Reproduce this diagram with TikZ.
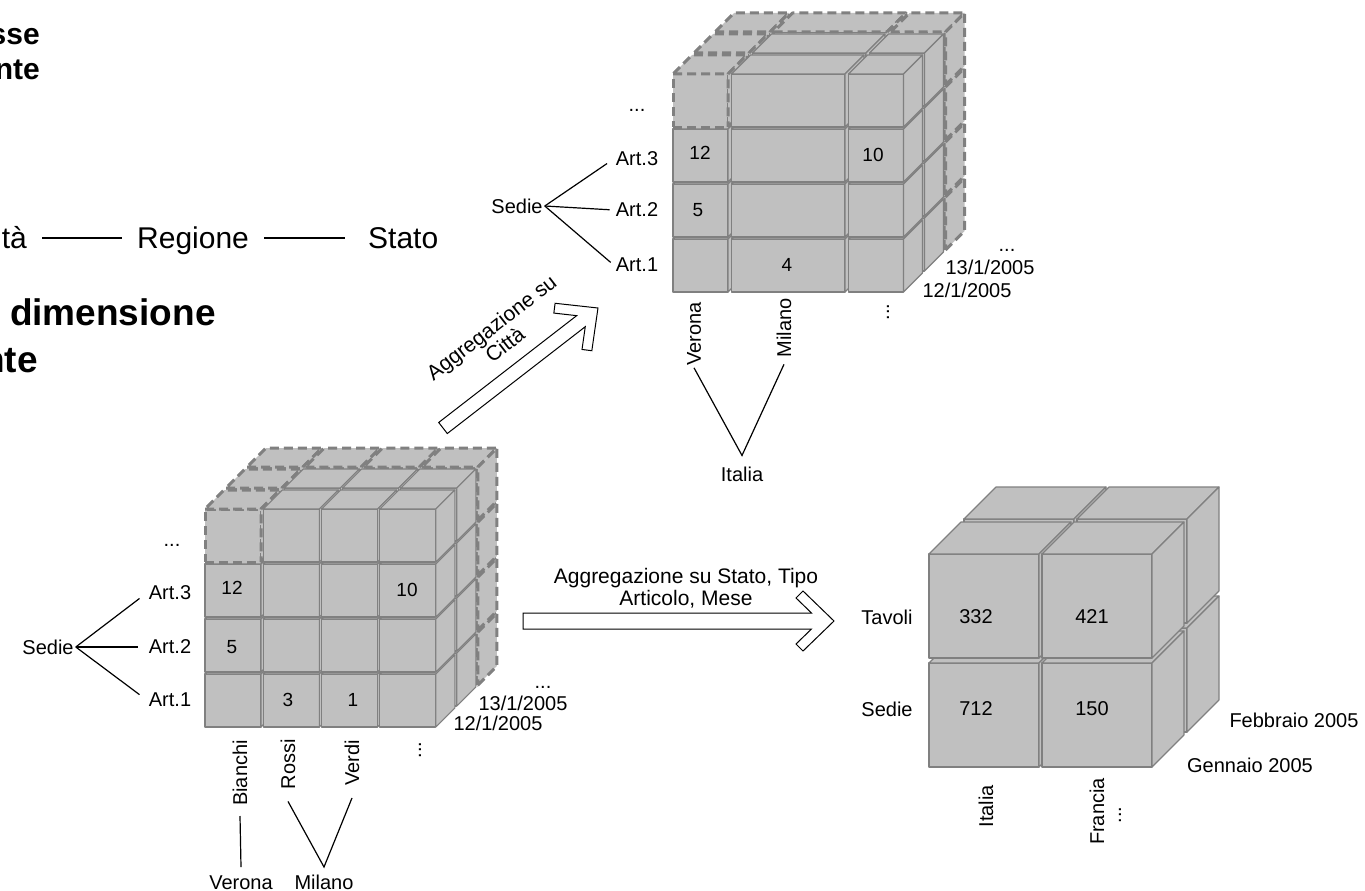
\documentclass[tikz,border=0pt]{standalone}
\usepackage{fontspec}
\setmainfont{Liberation Sans}
\definecolor{cubefill}{HTML}{C0C0C0}
\definecolor{cubeline}{HTML}{808080}
\newcommand\boxcell[6]{%
  \path[#6] (#1,#2) -- ++(#3,0) -- ++(0,-#4) -- ++(-#3,0) -- cycle;
  \path[#6] (#1,#2-#4) -- ++(#3,0) -- ++(#5,-#5) -- ++(-#3,0) -- cycle;
  \path[#6] (#1+#3,#2) -- ++(#5,-#5) -- ++(0,-#4) -- ++(-#5,#5) -- cycle;
}
\begin{document}
\begin{tikzpicture}[x=1pt,y=-1pt,
  face/.style={fill=cubefill,draw=cubeline,line width=1.1pt,line join=round},
  dface/.style={fill=cubefill,draw=cubeline,line width=3pt,dash pattern=on 9pt off 5pt,line join=round},
  lbl/.style={font=\fontsize{20}{22}\selectfont,inner sep=2pt},
  num/.style={font=\fontsize{19}{21}\selectfont,inner sep=1pt},
  datel/.style={font=\fontsize{20}{22}\selectfont,inner sep=1pt},
  clbl/.style={font=\fontsize{20}{22}\selectfont,inner sep=1pt},
  vlbl/.style={lbl,rotate=90,anchor=east},
  tree/.style={draw=black,line width=1.2pt},
  blockarrow/.style={draw=black,fill=white,line width=1pt,line join=miter},
  big/.style={font=\fontsize{30}{34}\selectfont,inner sep=0pt},
  bigb/.style={font=\fontsize{37}{40}\selectfont\bfseries,inner sep=0pt},
  topb/.style={font=\fontsize{30}{33}\selectfont\bfseries,inner sep=0pt},
  agg/.style={font=\fontsize{21}{22}\selectfont,align=center,inner sep=1pt}
]
\fill[white] (0,0) rectangle (1365,891);
\useasboundingbox (0,0) rectangle (1365,891);

% ---------- top-left slide text (clipped) ----------
\node[topb,anchor=base east] (t1) at (40,45) {sse};
\node[topb,anchor=base east] (t2) at (40,80) {nte};
\node[big,anchor=base east] (citta) at (27,248) {tà};
\node[big,anchor=base west] (regione) at (137,248) {Regione};
\node[big,anchor=base west] (stato) at (368,248) {Stato};
\draw[line width=1.4pt] ([xshift=15pt,yshift=10pt]citta.base east) -- ([xshift=-15pt,yshift=10pt]regione.base west);
\draw[line width=1.4pt] ([xshift=15pt,yshift=10pt]regione.base east) -- ([xshift=-23pt,yshift=10pt]stato.base west);
\node[bigb,anchor=base west] (dim) at (-21,325) {a dimensione};
\node[bigb,anchor=base east] (nte2) at (38,372) {nte};

% ---------- cube A (bottom left) ----------
\foreach \k in {2,1,0}{
 \foreach \i in {0,1,2,3}{
  \foreach \j in {0,1,2,3}{
   \pgfmathsetmacro\xx{205+58.3*\i+21*\k}
   \pgfmathsetmacro\yy{727-55*\j-21*\k}
   \pgfmathtruncatemacro\dsh{(\k==2)||((\i==0)&&(\j==3))}
   \ifnum\dsh=1 \boxcell{\xx}{\yy}{56}{53}{19}{dface}\else\boxcell{\xx}{\yy}{56}{53}{19}{face}\fi
  }}}

\node[lbl] (dotsA) at (172,545) {...};
\node[lbl] (art3A) at (170,593) {Art.3};
\node[lbl] (art2A) at (170,647) {Art.2};
\node[lbl] (art1A) at (170,700) {Art.1};
\node[lbl] (sedieA) at (48,647) {Sedie};
\draw[tree,shorten >=9pt] (sedieA.east) -- (art3A.west);
\draw[tree,shorten >=9pt] (sedieA.east) -- (art2A.west);
\draw[tree,shorten >=9pt] (sedieA.east) -- (art1A.west);
\node[num] (vA1) at (232,588) {12};
\node[num] (vA2) at (232,647) {5};
\node[num] (vA3) at (407,590) {10};
\node[num] (vA4) at (288,700) {3};
\node[num] (vA5) at (353,700) {1};
\node[datel] (dA1) at (498,723) {12/1/2005};
\node[datel] (dA2) at (523,703) {13/1/2005};
\node[datel] (dA3) at (543,687) {...};
\node[vlbl] (bianchi) at (240,738) {Bianchi};
\node[vlbl] (rossi) at (288,737) {Rossi};
\node[vlbl] (verdi) at (352,738) {Verdi};
\node[lbl,rotate=90] (vdA) at (420,750) {...};
\node[lbl,anchor=base] (veronaA) at (241,889) {Verona};
\node[lbl,anchor=base] (milanoA) at (324,889) {Milano};
\draw[tree] ([yshift=-8pt]bianchi.west) -- ([yshift=22pt]veronaA.base);
\coordinate (mA) at ([yshift=22pt]milanoA.base);
\draw[tree] ([yshift=-10pt]rossi.west) -- (mA) -- ([yshift=-10pt]verdi.west);

% ---------- cube B (top) ----------
\foreach \k in {2,1,0}{
 \foreach \s/\n in {0/1,1/2,3/1}{
  \foreach \j in {0,1,2,3}{
   \pgfmathsetmacro\xx{673+58.5*\s+21*\k}
   \pgfmathsetmacro\ww{58.5*\n-3.5}
   \pgfmathsetmacro\yy{292-55*\j-21*\k}
   \pgfmathtruncatemacro\dsh{(\k==2)||((\s==0)&&(\j==3))}
   \ifnum\dsh=1 \boxcell{\xx}{\yy}{\ww}{53}{19}{dface}\else\boxcell{\xx}{\yy}{\ww}{53}{19}{face}\fi
  }}}

\node[lbl] (dotsB) at (637,110) {...};
\node[lbl] (art3B) at (637,159) {Art.3};
\node[lbl] (art2B) at (637,210) {Art.2};
\node[lbl] (art1B) at (637,265) {Art.1};
\node[lbl] (sedieB) at (517,206) {Sedie};
\draw[tree,shorten >=8pt] (sedieB.east) -- (art3B.west);
\draw[tree,shorten >=4pt] (sedieB.east) -- (art2B.west);
\draw[tree,shorten >=4pt] (sedieB.east) -- (art1B.west);
\node[num] (vB1) at (700,153) {12};
\node[num] (vB2) at (698,210) {5};
\node[num] (vB3) at (787,265) {4};
\node[num] (vB4) at (873,155) {10};
\node[datel] (dB1) at (967,290) {12/1/2005};
\node[datel] (dB2) at (990,267) {13/1/2005};
\node[datel] (dB3) at (1007,250) {...};
\node[vlbl] (veronaB) at (694,300) {Verona};
\node[vlbl] (milanoB) at (784,296) {Milano};
\node[lbl,rotate=90] (vdB) at (888,312) {...};
\node[lbl] (italiaB) at (742,474) {Italia};
\draw[tree] (veronaB.west) -- ([yshift=9pt]italiaB.north) -- ([yshift=-5pt]milanoB.west);

% ---------- cube C (bottom right) ----------
\foreach \k in {1,0}{
 \foreach \i in {0,1}{
  \foreach \j in {0,1}{
   \pgfmathsetmacro\xx{929+113*\i+35*\k}
   \pgfmathsetmacro\yy{767-109*\j-35*\k}
   \boxcell{\xx}{\yy}{110}{104}{32}{face}
  }}}
\node[clbl] (tavoli) at (887,617) {Tavoli};
\node[clbl] (sedieC) at (887,709) {Sedie};
\node[clbl] (c1) at (976,617) {332};
\node[clbl] (c2) at (1092,617) {421};
\node[clbl] (c3) at (976,709) {712};
\node[clbl] (c4) at (1092,709) {150};
\node[clbl] (feb) at (1294,720) {Febbraio 2005};
\node[clbl] (gen) at (1250,765) {Gennaio 2005};
\node[vlbl] (italiaC) at (986,783) {Italia};
\node[vlbl] (franciaC) at (1097,776) {Francia};
\node[lbl,rotate=90] (vdC) at (1120,815) {...};

% ---------- block arrows ----------
\begin{scope}[shift={(523,621)}]
 \path[blockarrow] (0,-8) -- (288.5,-8) -- (273,-23) -- (280,-30) -- (311,0) -- (280,30) -- (273,23) -- (288.5,8) -- (0,8) -- cycle;
\end{scope}
\node[agg] (aggH) at (686,588) {Aggregazione su Stato, Tipo\\Articolo, Mese};

\begin{scope}[shift={(443,428)},rotate=37.75]
 \path[blockarrow] (0,-7) -- (174.5,-7) -- (158,-23) -- (165,-30) -- (196,0) -- (165,30) -- (158,23) -- (174.5,7) -- (0,7) -- cycle;
\end{scope}
\node[agg,rotate=37.75] (aggD) at (498,336) {Aggregazione su\\Città};
\end{tikzpicture}
\end{document}
